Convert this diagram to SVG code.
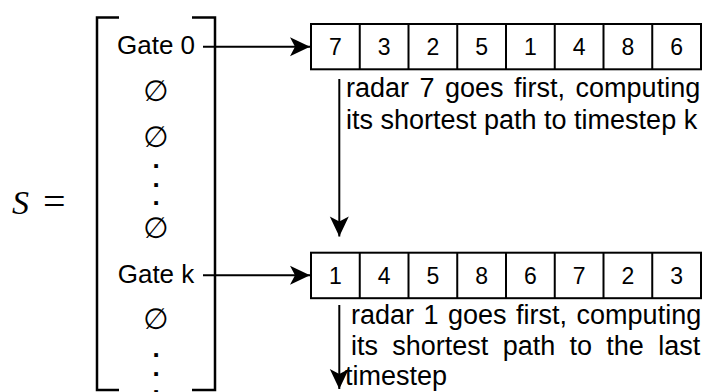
<svg xmlns="http://www.w3.org/2000/svg" width="709" height="392" viewBox="0 0 709 392">
<defs>
<style>
.t{font-family:"Liberation Sans",Arial,sans-serif;fill:#000}
.g{font-size:26px;text-anchor:middle}
.d{font-size:23px;text-anchor:middle}
.n{font-size:27px}
.e{font-family:"DejaVu Sans",sans-serif;font-size:29px;text-anchor:middle;fill:#000}
.dot{font-family:"Liberation Sans",Arial,sans-serif;font-size:26px;font-weight:bold;text-anchor:middle;fill:#000}
.cell{fill:#fff;stroke:#000;stroke-width:2}
.br{fill:none;stroke:#000;stroke-width:2.5}
.c{fill:none;stroke:#000;stroke-width:2}
.m{font-family:"Liberation Serif","Times New Roman",serif;fill:#000}
</style>
<marker id="ah" markerUnits="userSpaceOnUse" markerWidth="24" markerHeight="24" viewBox="-22 -12 24 24" refX="0" refY="0" orient="auto">
<path d="M0,0 L-20,-9.5 L-15,0 L-20,9.5 Z" fill="#000"/>
</marker>
</defs>
<g id="label-S">
<text class="m" x="12" y="213.5" font-size="34" font-style="italic">S</text>
<text class="m" x="43" y="215" font-size="40" fill="#333">=</text>
</g>
<g id="bracket">
<path class="br" d="M119,17.5 H97 V390 H119"/>
<path class="br" d="M192,17.5 H215 V390 H192"/>
</g>
<g id="gate0"><text class="t g" x="156" y="54">Gate 0</text></g>
<g id="empty1"><text class="e" x="156" y="101">∅</text></g>
<g id="empty2"><text class="e" x="156" y="146.5">∅</text></g>
<g id="dots1"><text class="dot" x="156" y="168">.<tspan x="156" dy="18.5">.</tspan><tspan x="156" dy="18.5">.</tspan></text></g>
<g id="empty3"><text class="e" x="156" y="237.5">∅</text></g>
<g id="gatek"><text class="t g" x="156" y="282.5">Gate k</text></g>
<g id="empty4"><text class="e" x="156" y="329">∅</text></g>
<g id="dots2"><text class="dot" x="156" y="357">.<tspan x="156" dy="18.5">.</tspan><tspan x="156" dy="18.5">.</tspan></text></g>
<g id="array1">
<rect class="cell" x="311" y="24" width="390" height="45.3"/>
<path class="c" d="M359.75,24 V69.3 M408.5,24 V69.3 M457.25,24 V69.3 M506,24 V69.3 M554.75,24 V69.3 M603.5,24 V69.3 M652.25,24 V69.3"/>
<text class="t d" y="55"><tspan x="335.4">7</tspan><tspan x="384.1">3</tspan><tspan x="432.9">2</tspan><tspan x="481.6">5</tspan><tspan x="530.4">1</tspan><tspan x="579.1">4</tspan><tspan x="627.9">8</tspan><tspan x="676.6">6</tspan></text>
</g>
<g id="array2">
<rect class="cell" x="311" y="252.7" width="390" height="45.5"/>
<path class="c" d="M359.75,252.7 V298.2 M408.5,252.7 V298.2 M457.25,252.7 V298.2 M506,252.7 V298.2 M554.75,252.7 V298.2 M603.5,252.7 V298.2 M652.25,252.7 V298.2"/>
<text class="t d" y="283.8"><tspan x="335.4">1</tspan><tspan x="384.1">4</tspan><tspan x="432.9">5</tspan><tspan x="481.6">8</tspan><tspan x="530.4">6</tspan><tspan x="579.1">7</tspan><tspan x="627.9">2</tspan><tspan x="676.6">3</tspan></text>
</g>
<g id="note1">
<text class="t n" x="346" y="97" word-spacing="3">radar 7 goes first, computing</text>
<text class="t n" x="346" y="129">its shortest path to timestep k</text>
</g>
<g id="note2">
<text class="t n" x="351" y="324" word-spacing="2">radar 1 goes first, computing</text>
<text class="t n" x="351" y="355" word-spacing="6.8">its shortest path to the last</text>
<text class="t n" x="345" y="385">timestep</text>
</g>
<g id="connectors">
<line class="c" x1="203" y1="46.7" x2="310" y2="46.7" marker-end="url(#ah)"/>
<line class="c" x1="203" y1="275.3" x2="310" y2="275.3" marker-end="url(#ah)"/>
<line class="c" x1="339.3" y1="79" x2="339.3" y2="236.5" marker-end="url(#ah)"/>
<line class="c" x1="339.3" y1="305" x2="339.3" y2="389" marker-end="url(#ah)"/>
</g>
</svg>
